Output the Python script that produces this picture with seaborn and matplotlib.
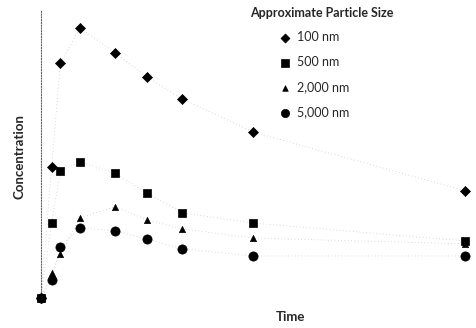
import pandas as pd
import numpy as np
import seaborn as sns
import matplotlib.pyplot as plt

sns.set_style('white')
plt.rcParams['font.family'] = ['Lato', 'DejaVu Sans']

# time points (arbitrary units)
tiempo = [0, 0.3, 0.55, 1.1, 2.1, 3, 4, 6, 12]
tamanos = ['100 nm', '500 nm', '2,000 nm', '5,000 nm']

conc_100 = [0, 45.6, 81.6, 93.8, 85.1, 76.7, 69.1, 57.6, 37.2]
conc_500 = [0, 26.1, 44.1, 47.3, 43.3, 36.4, 29.6, 26.0, 19.8]
conc_2000 = [0, 8.7, 15.3, 27.9, 31.7, 27.1, 24.0, 20.8, 18.8]
conc_5000 = [0, 6.3, 17.8, 24.3, 23.4, 20.4, 17.1, 14.6, 14.6]

series = [conc_100, conc_500, conc_2000, conc_5000]
filas = []
for nombre, valores in zip(tamanos, series):
    for t, c in zip(tiempo, valores):
        filas.append({'time': t, 'conc': c, 'size': nombre})
df = pd.DataFrame(filas)

marcadores = {'100 nm': 'D', '500 nm': 's', '2,000 nm': '^', '5,000 nm': 'o'}
tam_marc = {'100 nm': 26, '500 nm': 34, '2,000 nm': 20, '5,000 nm': 44}

fig = plt.figure(figsize=(4.76, 3.28), dpi=100)
ax = fig.add_axes([41/476, 30/328, 428/476, 288/328])

# faint dotted connectors
sns.lineplot(data=df, x='time', y='conc', units='size', estimator=None,
             color='0.8', linestyle=(0, (1, 3)), linewidth=0.6, ax=ax, legend=False)

for nombre in tamanos:
    sub = df[df['size'] == nombre]
    sns.scatterplot(data=sub, x='time', y='conc', marker=marcadores[nombre],
                    s=tam_marc[nombre], color='black', edgecolor='black',
                    linewidth=0.5, ax=ax, label=nombre, clip_on=False, zorder=3)

ax.set_xlim(0, 12.1)
ax.set_ylim(0, 100)
ax.set_xticks([])
ax.set_yticks([])
ax.set_xlabel('')
ax.set_ylabel('')
for lado in ['top', 'right', 'bottom']:
    ax.spines[lado].set_visible(False)
ax.spines['left'].set_linestyle((0, (1, 1.5)))
ax.spines['left'].set_color('0.4')
ax.spines['left'].set_linewidth(0.8)

fig.text(20/476, 1 - 157/328, 'Concentration', rotation=90, ha='center',
         va='center', fontsize=9.5, fontweight='bold')
fig.text(290/476, 1 - 317/328, 'Time', ha='center', va='center',
         fontsize=9.5, fontweight='bold')
fig.text(250/476, 1 - 13/328, 'Approximate Particle Size', ha='left',
         va='center', fontsize=9, fontweight='bold')

leg = ax.legend(loc='upper left', bbox_to_anchor=(272/476, 1 - 25/328),
                bbox_transform=fig.transFigure, frameon=False, fontsize=9,
                labelspacing=1.05, handletextpad=0.5, borderpad=0,
                handlelength=1.0, markerscale=0.9)

plt.savefig('out.png', dpi=100)
plt.close()
